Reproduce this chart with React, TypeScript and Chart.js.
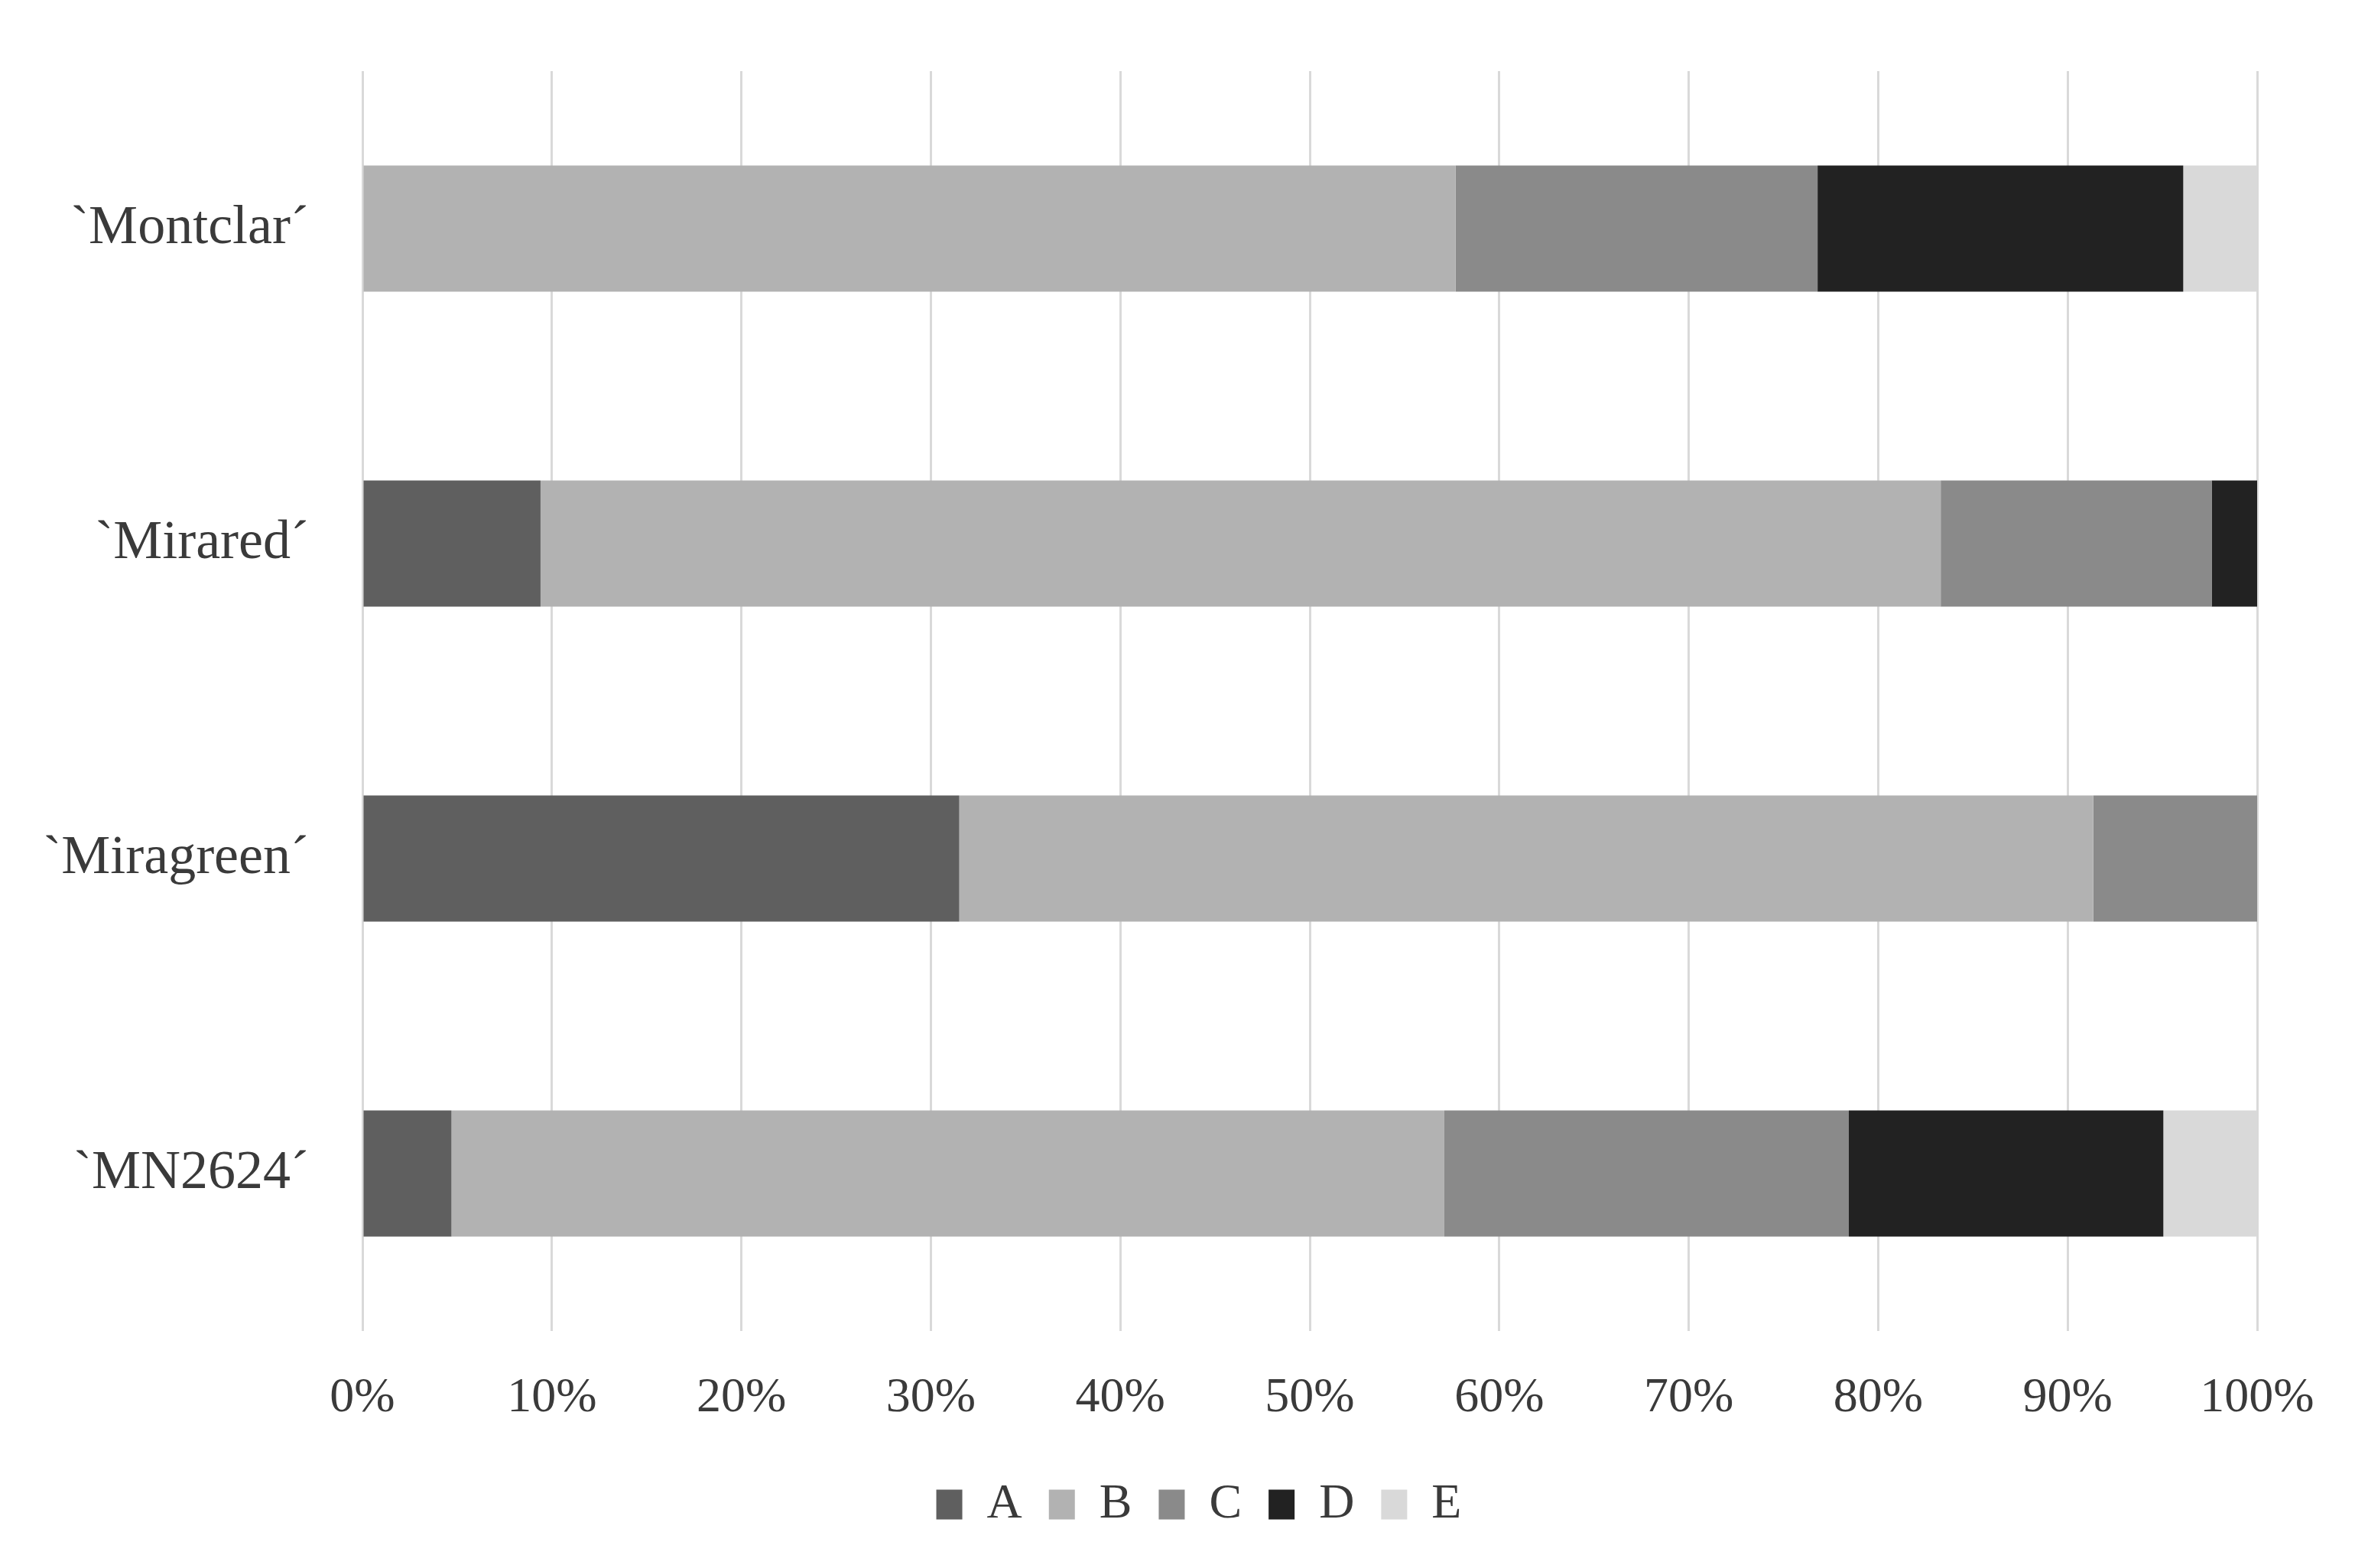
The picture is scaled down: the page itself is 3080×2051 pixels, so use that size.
import React, { useEffect, useRef } from "react";
import { Chart, registerables } from "chart.js";

Chart.register(...registerables);

const categories = ["`Montclar´", "`Mirared´", "`Miragreen´", "`MN2624´"];
const seriesNames = ["A", "B", "C", "D", "E"];
const seriesA = [0, 9.4, 31.5, 4.7];
const seriesB = [57.7, 73.9, 59.85, 52.4];
const seriesC = [19.1, 14.3, 8.65, 21.35];
const seriesD = [19.3, 2.4, 0, 16.6];
const seriesE = [3.9, 0, 0, 4.95];
const seriesColors = ["#5f5f5f", "#b2b2b2", "#8a8a8a", "#222222", "#d9d9d9"];
const xTicks = [0, 10, 20, 30, 40, 50, 60, 70, 80, 90, 100];

const FONT = "'Liberation Serif', 'Times New Roman', serif";
const TEXT = "#3a3a3a";

const shiftLegend = {
  id: "shiftLegend",
  afterLayout(chart: any) {
    const l = chart.legend;
    if (l) {
      l.left += 92;
      l.right += 92;
    }
  },
};

export default function App() {
  const ref = useRef<HTMLCanvasElement | null>(null);

  useEffect(() => {
    document.body.style.margin = "0";
    const canvas = ref.current;
    if (!canvas) return;
    const values = [seriesA, seriesB, seriesC, seriesD, seriesE];
    const chart = new Chart(canvas, {
      type: "bar",
      data: {
        labels: categories,
        datasets: seriesNames.map((name, i) => ({
          label: name,
          data: values[i],
          backgroundColor: seriesColors[i],
          borderWidth: 0,
          barPercentage: 0.4,
          categoryPercentage: 1,
        })),
      },
      plugins: [shiftLegend],
      options: {
        indexAxis: "y",
        animation: false,
        responsive: true,
        maintainAspectRatio: false,
        devicePixelRatio: 1,
        layout: { padding: { top: 93, right: 128, bottom: 41, left: 0 } },
        plugins: {
          tooltip: { enabled: false },
          legend: {
            position: "bottom",
            labels: {
              boxWidth: 34,
              boxHeight: 39,
              padding: 35,
              color: TEXT,
              font: { family: FONT, size: 64 },
            },
          },
        },
        scales: {
          x: {
            stacked: true,
            min: 0,
            max: 100,
            afterBuildTicks: (scale: any) => {
              scale.ticks = xTicks.map((v) => ({ value: v }));
            },
            afterFit: (scale: any) => {
              scale.height = 160;
            },
            ticks: {
              padding: 50,
              color: TEXT,
              font: { family: FONT, size: 64 },
              maxRotation: 0,
              autoSkip: false,
              callback: (v: any) => v + "%",
            },
            grid: { color: "#d9d9d9", lineWidth: 3, drawTicks: false },
            border: { display: false },
          },
          y: {
            stacked: true,
            afterFit: (scale: any) => {
              scale.width = 474;
              scale.paddingTop = 0;
              scale.paddingBottom = 0;
            },
            ticks: {
              padding: 70,
              color: TEXT,
              font: { family: FONT, size: 72 },
            },
            grid: { display: false, drawTicks: false },
            border: { display: false },
          },
        },
      },
    });
    return () => chart.destroy();
  }, []);

  return (
    <div style={{ position: "fixed", left: 0, top: 0, width: 3080, height: 2051, background: "#fff" }}>
      <canvas ref={ref} />
    </div>
  );
}
